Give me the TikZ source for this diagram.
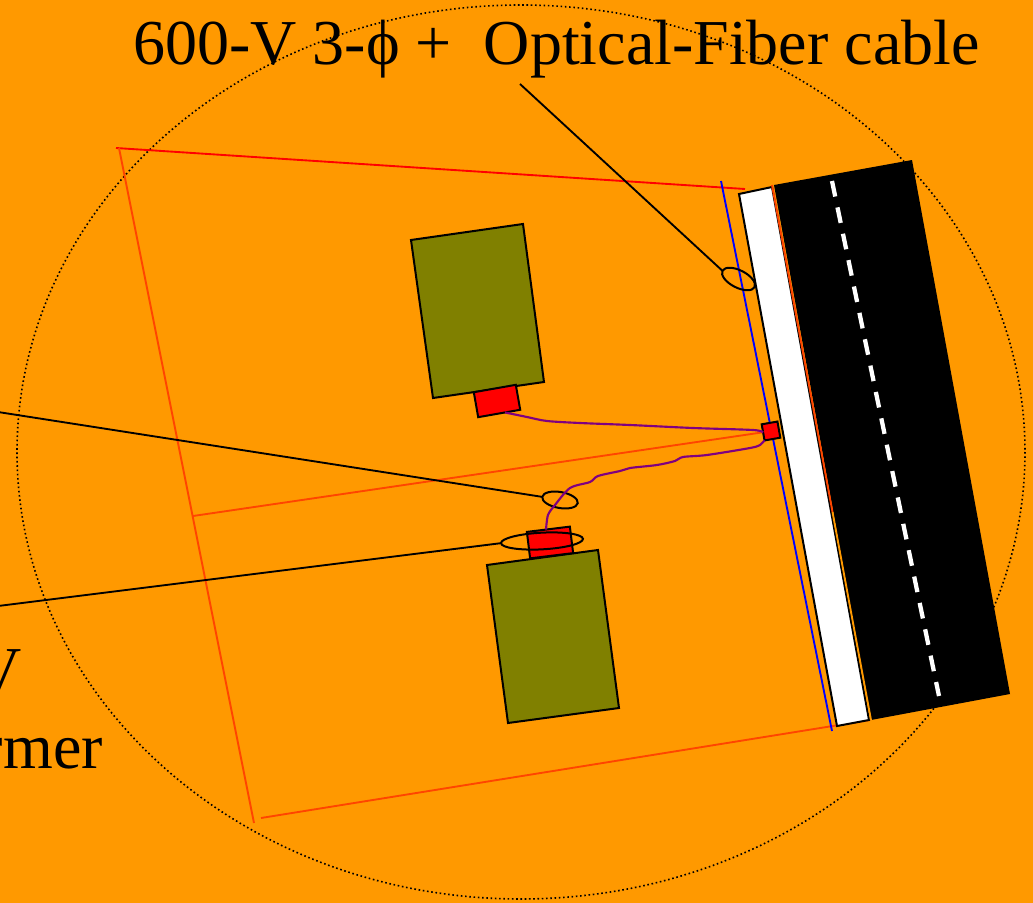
\documentclass[tikz,border=0pt]{standalone}
\usepackage{fontspec}
\setmainfont{Liberation Serif}
\usetikzlibrary{shapes.geometric}
\definecolor{bgorange}{HTML}{FF9900}
\definecolor{panelolive}{HTML}{808000}
\definecolor{wirered}{HTML}{FF4500}
\definecolor{cablepurple}{HTML}{800080}
\tikzset{
  label text/.style={inner sep=0pt,font=\fontsize{48}{50}\selectfont,text=black},
  loop ring/.style={ellipse,draw=black,line width=1.5pt,inner sep=0pt,outer sep=0pt},
  small box/.style={rectangle,draw=black,fill=red,line width=1.5pt,inner sep=0pt,outer sep=0pt},
  wall/.style={line width=1.4pt},
  lead/.style={draw=black,line width=1.4pt},
  cable/.style={draw=cablepurple,line width=1.6pt},
}
\begin{document}
\begin{tikzpicture}[x=0.75pt,y=-0.75pt]
  \useasboundingbox (0,0) rectangle (1033,903);
  \clip (0,0) rectangle (1033,903);
  \fill[bgorange] (0,0) rectangle (1033,903);

  \draw[line width=1.2pt,dash pattern=on 1.2pt off 2pt] (521,452) ellipse [x radius=504,y radius=447];

  % walls of the room
  \draw[wall,red] (116,148) -- (745,189);
  \draw[wall,wirered] (119,148) -- (254,823);
  \draw[wall,wirered] (193,516) -- (765,432);
  \draw[wall,wirered] (261,818) -- (870,720);
  \draw[wall,blue] (721,181) -- (832,731);

  % road and sidewalk
  \fill[black] (774,185) -- (912,160) -- (1010,694) -- (871,720) -- cycle;
  \draw[line width=1.5pt,fill=white] (739,194) -- (772,187) -- (869,720) -- (837,726) -- cycle;
  \draw[wall,wirered] (772,185) -- (832.5,512);
  \draw[wall,bgorange] (832.5,512) -- (871,720);
  \draw[white,line width=3.2pt,dash pattern=on 11.9pt off 8.3pt] (832,181) -- (939,696);

  \draw[line width=1.5pt,fill=panelolive] (411,240) -- (523,224) -- (544,382) -- (433,398) -- cycle;
  \draw[line width=1.5pt,fill=panelolive] (487,565) -- (598,550) -- (619,708) -- (508,723) -- cycle;

  \node[small box,minimum width=32pt,minimum height=19pt,rotate=10] (upperbox) at (497,401) {};
  \node[small box,minimum width=32.5pt,minimum height=20pt,rotate=7] (lowerbox) at (550,542.5) {};
  \node[small box,minimum width=12pt,minimum height=12.3pt,rotate=10] (pole) at (771,431) {};

  \node[loop ring,minimum width=27pt,minimum height=13pt,rotate=-27] (topring) at (738.5,279) {};
  \node[loop ring,minimum width=27pt,minimum height=12pt,rotate=-10] (midring) at (560,500) {};
  \node[loop ring,minimum width=61.5pt,minimum height=12.5pt,rotate=3] (lowring) at (542,541) {};

  \coordinate (toplead) at (520,84);
  \coordinate (midlead) at (-2,412);
  \coordinate (lowlead) at (-2,606);
  \path[lead] (toplead) -- (topring.west);
  \path[lead] (midlead) -- (midring.west);
  \path[lead] (lowlead) -- (lowring.west);

  \draw[cable] plot[smooth,tension=0.5] coordinates {(upperbox.-65) (527,417) (547,421) (580,423)
     (630,425) (693,428) (753,430) (pole.west)};
  \draw[cable] plot[smooth,tension=0.5] coordinates {(lowerbox.100) (548,515) (555,505) (570,488)
     (590,482) (598,476) (620,471) (630,468) (657,465) (675,461) (683,457) (707,455) (750,448)
     (760,445) (pole.-135)};

  \node[label text,anchor=base west] (toplabel) at (133,64) {600-V 3-ϕ +\ \ Optical-Fiber cable};
  \node[label text,anchor=base east] (voltlabel) at (22,691) {V};
  \node[label text,anchor=base east] (xfmrlabel) at (103,768) {rmer};
\end{tikzpicture}
\end{document}
